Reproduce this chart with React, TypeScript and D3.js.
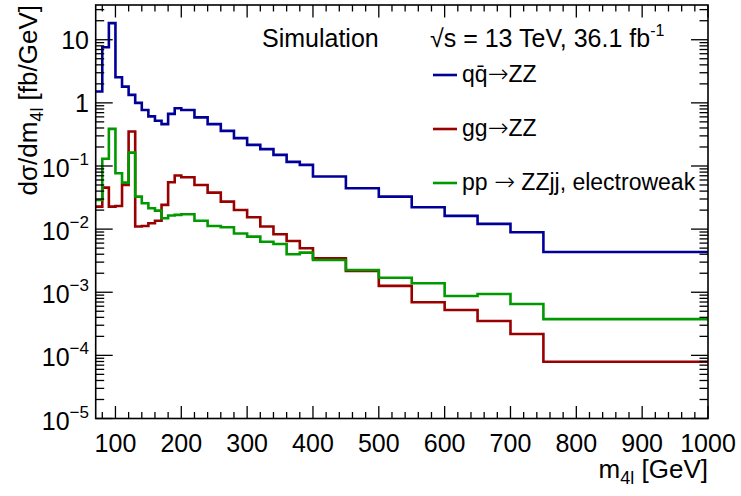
import React from "react";
import * as d3 from "d3";

// bin edges in m4l [GeV]
const binEdges = [
  70, 80, 90, 100, 110, 120, 130, 140, 150, 160, 170, 180, 190, 200,
  220, 240, 260, 280, 300, 320, 340, 360, 380, 400,
  450, 500, 550, 600, 650, 700, 750, 1000,
];

// dsigma/dm4l [fb/GeV]
const qqZZ = [
  1.51, 7.6, 18.3, 2.55, 1.81, 1.34, 1.0, 0.77, 0.61, 0.52, 0.46, 0.67, 0.82,
  0.77, 0.59, 0.46, 0.36, 0.276, 0.216, 0.185, 0.15, 0.116, 0.104,
  0.068, 0.0445, 0.0327, 0.0222, 0.0162, 0.0121, 0.0089,
  0.00435,
];
const ggZZ = [
  0.0227, 0.0455, 0.0227, 0.0233, 0.05, 0.351, 0.011, 0.0112, 0.0124, 0.0136, 0.0242, 0.0554, 0.0705,
  0.0665, 0.05, 0.0379, 0.0273, 0.0201, 0.0154, 0.011, 0.0083, 0.0065, 0.00498,
  0.00346, 0.00218, 0.00126, 0.000695, 0.000524, 0.00035, 0.000218,
  0.0000794,
];
const ewkZZjj = [
  0.029, 0.13, 0.387, 0.0769, 0.0546, 0.163, 0.0327, 0.0257, 0.0214, 0.0196, 0.0149, 0.0164, 0.0168,
  0.0172, 0.0136, 0.0112, 0.0107, 0.0085, 0.0076, 0.0063, 0.0058, 0.004, 0.00424,
  0.00325, 0.00225, 0.0017, 0.00139, 0.00087, 0.00094, 0.00065,
  0.000375,
];

const xTickLabels = [100, 200, 300, 400, 500, 600, 700, 800, 900, 1000];
const yTickExponents = [-5, -4, -3, -2, -1, 0, 1];

const W = 741;
const H = 496;
const FONT = "'Liberation Sans', Arial, Helvetica, sans-serif";
const ARROW = "'DejaVu Sans', sans-serif";

const x = d3.scaleLinear().domain([70, 1000]).range([95.7, 708]);
const y = d3.scaleLog().domain([1e-5, 35.5]).range([418.5, 5]);

const series = [
  { name: "qq", values: qqZZ, color: "#000099" },
  { name: "gg", values: ggZZ, color: "#990000" },
  { name: "ewk", values: ewkZZjj, color: "#009900" },
];

function histPath(values: number[]) {
  const pts: [number, number][] = values.map((v, i) => [binEdges[i], v]);
  pts.push([binEdges[binEdges.length - 1], values[values.length - 1]]);
  return d3
    .line<[number, number]>()
    .x((d) => x(d[0]))
    .y((d) => y(d[1]))
    .curve(d3.curveStepAfter)(pts);
}

export default function App() {
  const [x0, x1] = x.range();
  const [yb, yt] = y.range();

  // x ticks: major every 100, minor every 20
  const xMinor = d3.range(80, 1001, 20).filter((v) => v % 100 !== 0);
  // y ticks: decades + 2..9 subdivisions
  const yMinor: number[] = [];
  yTickExponents.forEach((e) => {
    for (let k = 2; k <= 9; k++) {
      const v = k * Math.pow(10, e);
      if (v < y.domain()[1]) yMinor.push(v);
    }
  });

  const legend = [
    { color: "#000099", ly: 75, label: "qq" },
    { color: "#990000", ly: 129, label: "gg" },
    { color: "#009900", ly: 183, label: "pp" },
  ];

  return (
    <svg
      width={W}
      height={H}
      style={{ position: "absolute", left: 0, top: 0, background: "#fff" }}
      fontFamily={FONT}
    >
      <rect width={W} height={H} fill="#fff" />

      {/* histograms */}
      {series.map((s) => (
        <path key={s.name} d={histPath(s.values) || ""} fill="none" stroke={s.color} strokeWidth={2.6} />
      ))}

      {/* frame */}
      <rect x={x0} y={yt} width={x1 - x0} height={yb - yt} fill="none" stroke="#000" strokeWidth={1.6} />

      {/* x ticks */}
      {xTickLabels.map((v) => (
        <g key={"xm" + v}>
          <line x1={x(v)} x2={x(v)} y1={yb} y2={yb - 12.5} stroke="#000" strokeWidth={1.3} />
          <line x1={x(v)} x2={x(v)} y1={yt} y2={yt + 12.5} stroke="#000" strokeWidth={1.3} />
          <text x={x(v)} y={452} textAnchor="middle" fontSize={25}>
            {v}
          </text>
        </g>
      ))}
      {xMinor.map((v) => (
        <g key={"xn" + v}>
          <line x1={x(v)} x2={x(v)} y1={yb} y2={yb - 6.5} stroke="#000" strokeWidth={1.3} />
          <line x1={x(v)} x2={x(v)} y1={yt} y2={yt + 6.5} stroke="#000" strokeWidth={1.3} />
        </g>
      ))}

      {/* y ticks */}
      {yTickExponents.map((e) => {
        const yy = y(Math.pow(10, e));
        return (
          <g key={"ym" + e}>
            <line x1={x0} x2={x0 + 17} y1={yy} y2={yy} stroke="#000" strokeWidth={1.3} />
            <line x1={x1} x2={x1 - 17} y1={yy} y2={yy} stroke="#000" strokeWidth={1.3} />
            {e === 0 || e === 1 ? (
              <text x={89} y={yy + 9} textAnchor="end" fontSize={25}>
                {e === 0 ? "1" : "10"}
              </text>
            ) : (
              <text x={89} y={yy + 11} textAnchor="end" fontSize={25}>
                10
                <tspan fontSize={17} dy={-12}>
                  {"\u2212" + Math.abs(e)}
                </tspan>
              </text>
            )}
          </g>
        );
      })}
      {yMinor.map((v) => (
        <g key={"yn" + v}>
          <line x1={x0} x2={x0 + 8.5} y1={y(v)} y2={y(v)} stroke="#000" strokeWidth={1.3} />
          <line x1={x1} x2={x1 - 8.5} y1={y(v)} y2={y(v)} stroke="#000" strokeWidth={1.3} />
        </g>
      ))}

      {/* axis titles */}
      <text x={x1} y={478} textAnchor="end" fontSize={26}>
        m<tspan fontSize={18} dy={6}>4l</tspan>
        <tspan dy={-6}> [GeV]</tspan>
      </text>
      <text transform={`translate(37,${yt}) rotate(-90)`} textAnchor="end" fontSize={26}>
        dσ/dm<tspan fontSize={18} dy={6}>4l</tspan>
        <tspan dy={-6}> [fb/GeV]</tspan>
      </text>

      {/* labels */}
      <text x={262} y={47} fontSize={25}>
        Simulation
      </text>
      <text x={430} y={47} fontSize={25}>
        √s = 13 TeV, 36.1 fb<tspan fontSize={16} dy={-11}>-1</tspan>
      </text>

      {/* legend */}
      {legend.map((l) => (
        <line key={l.label} x1={433} x2={457} y1={l.ly} y2={l.ly} stroke={l.color} strokeWidth={2.6} />
      ))}
      <text x={462} y={82} fontSize={23}>
        q{"q\u0304"}
        <tspan fontFamily={ARROW} fontSize={25} fontWeight={300}>→</tspan>ZZ
      </text>
      <text x={462} y={136} fontSize={23}>
        gg<tspan fontFamily={ARROW} fontSize={25} fontWeight={300}>→</tspan>ZZ
      </text>
      <text x={462} y={190} fontSize={23}>
        pp <tspan fontFamily={ARROW} fontSize={25} fontWeight={300}>→</tspan> ZZjj, electroweak
      </text>
    </svg>
  );
}
